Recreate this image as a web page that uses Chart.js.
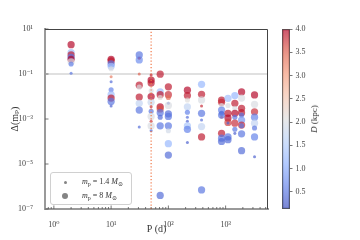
<!DOCTYPE html>
<html>
<head>
<meta charset="utf-8">
<script src="https://cdn.jsdelivr.net/npm/chart.js@4.4.1/dist/chart.umd.min.js"></script>
<style>
  html, body { margin: 0; padding: 0; background: #fff; }
  #wrap { position: relative; width: 360px; height: 240px; font-family: 'Liberation Serif', 'DejaVu Serif', serif; }
  #wrap canvas { position: absolute; left: 0; top: 0; }
  .legend-box { position: absolute; left: 50px; top: 172px; width: 80px; height: 31px; border: 1px solid #d0d0d0; border-radius: 3px; background: rgba(255,255,255,0.85); font-size: 8px; color: #333; }
  .legend-row { position: absolute; left: 0; height: 12px; line-height: 12px; width: 80px; }
  .legend-dot { position: absolute; border-radius: 50%; background: rgba(110,110,110,0.85); }
  .legend-text { position: absolute; left: 31px; white-space: nowrap; }
  .legend-text sub { font-size: 6px; vertical-align: -2px; line-height: 0; }
  .cb-label { position: absolute; left: 314px; top: 119px; transform: translate(-50%, -50%) rotate(-90deg); font-size: 9px; font-weight: normal; color: #333; white-space: nowrap; }
</style>
</head>
<body>
<div id="wrap">
  <canvas id="main" width="360" height="240"></canvas>
  <canvas id="cbar" width="360" height="240"></canvas>
  <div class="legend-box">
    <div class="legend-row" style="top:3px">
      <span class="legend-dot" style="left:12.5px;top:4.5px;width:3px;height:3px"></span>
      <span class="legend-text"><i>m</i><sub>p</sub> = 1.4 <i>M</i><sub>⊙</sub></span>
    </div>
    <div class="legend-row" style="top:17px">
      <span class="legend-dot" style="left:11px;top:3px;width:6px;height:6px"></span>
      <span class="legend-text"><i>m</i><sub>p</sub> = 8 <i>M</i><sub>⊙</sub></span>
    </div>
  </div>
  <div class="cb-label"><i>D</i> (kpc)</div>
</div>
<script>
// orbital periods of the columns (days)
var periods = [2, 10, 31, 50, 72, 100, 215, 380, 850, 1100, 1450, 1900, 3200];

// Delta(m_p) per column
var deltas = [
  [2.0, 0.9, 0.7, 0.55, 0.45, 0.35, 0.28, 0.107],
  [0.45, 0.38, 0.28, 0.22, 0.17, 0.075, 0.045, 0.02, 0.012, 0.0085, 0.006, 0.0038],
  [0.7, 0.5, 0.42, 0.1, 0.032, 0.026, 0.0095, 0.005, 0.0025, 0.00044],
  [0.09, 0.054, 0.04, 0.018, 0.01, 0.0055, 0.0035, 0.0022, 0.0013, 0.0008, 0.00049, 0.0003],
  [0.098, 0.016, 0.012, 0.009, 0.0035, 0.0028, 0.0019, 0.0012, 0.0005, 4e-7],
  [0.027, 0.012, 0.009, 0.005, 0.004, 0.0017, 0.0013, 0.0005, 0.0003, 8e-5, 2.5e-5],
  [0.019, 0.011, 0.007, 0.0035, 0.002, 0.0012, 0.0008, 0.0005, 0.00035, 9e-5],
  [0.035, 0.0125, 0.007, 0.0038, 0.0018, 0.0009, 0.00046, 0.00016, 7e-7],
  [0.0069, 0.0055, 0.004, 0.0025, 0.0018, 0.0012, 0.0015, 0.00023, 0.00014, 0.0001],
  [0.0083, 0.004, 0.0018, 0.0011, 0.0007, 0.00066, 0.00016, 0.00012],
  [0.011, 0.005, 0.003, 0.0018, 0.0012, 0.00065, 0.00035, 0.00023],
  [0.016, 0.0085, 0.003, 0.0019, 0.0015, 0.0009, 0.00054, 0.0005, 0.00022, 3.9e-5],
  [0.0117, 0.0045, 0.0021, 0.0012, 0.00065, 0.0004, 0.00016, 2.1e-5]
];

// pulsar mass per point (solar masses) -> marker size
var masses = [
  [8, 8, 8, 8, 8, 8, 4, 1.4],
  [8, 8, 8, 8, 4, 1.4, 1.4, 4, 8, 8, 8, 1.4],
  [8, 1.4, 8, 1.4, 8, 4, 8, 8, 8, 1.4],
  [1.4, 8, 8, 4, 8, 8, 1.4, 4, 8, 1.4, 8, 1.4],
  [8, 8, 8, 4, 8, 8, 8, 4, 8, 8],
  [8, 8, 4, 1.4, 8, 8, 8, 8, 4, 8, 8],
  [8, 8, 4, 8, 4, 1.4, 1.4, 8, 8, 1.4],
  [8, 8, 8, 1.4, 8, 1.4, 8, 8, 8],
  [8, 8, 4, 8, 4, 1.4, 8, 8, 8, 8],
  [8, 4, 8, 8, 8, 1.4, 8, 8],
  [8, 8, 4, 8, 4, 8, 4, 1.4],
  [8, 8, 8, 8, 4, 8, 8, 4, 8, 8],
  [8, 8, 8, 8, 8, 4, 8, 1.4]
];

// distance per point (kpc) -> colour
var distances = [
  [4.0, 1.3, 3.9, 0.5, 4.0, 2.0, 0.6, 0.5],
  [4.0, 3.9, 0.5, 1.3, 2.0, 3.3, 0.4, 0.6, 1.3, 3.9, 0.5, 0.3],
  [0.5, 4.0, 0.7, 3.5, 3.9, 2.0, 3.9, 1.7, 0.5, 0.4],
  [3.9, 4.0, 3.9, 2.0, 4.0, 1.8, 3.8, 0.5, 2.0, 3.8, 2.0, 0.3],
  [3.9, 1.3, 3.9, 2.1, 4.0, 3.6, 0.5, 0.4, 0.5, 0.4],
  [3.9, 3.8, 3.4, 0.3, 2.0, 0.4, 0.5, 0.5, 1.9, 1.2, 0.4],
  [4.0, 3.9, 2.1, 1.7, 0.6, 0.4, 0.3, 1.4, 0.6, 0.3],
  [1.2, 3.9, 2.0, 3.8, 0.5, 0.4, 1.7, 3.9, 0.5],
  [3.9, 3.8, 2.0, 0.6, 0.4, 3.4, 0.5, 3.9, 0.5, 0.4],
  [1.3, 2.0, 3.9, 4.0, 3.7, 0.3, 0.5, 0.4],
  [1.2, 3.9, 2.0, 4.0, 0.5, 3.8, 0.5, 0.3],
  [4.0, 2.0, 3.9, 3.9, 0.5, 0.8, 3.8, 0.5, 0.5, 0.4],
  [4.0, 2.0, 3.8, 0.6, 1.7, 0.5, 0.6, 0.3]
];

var D_MIN = 0.13, D_MAX = 4.0;
var P_CUT = 50;          // dotted vertical marker
var DELTA_REF = 0.1;     // grey horizontal reference
var cbTicks = [0.5, 1.0, 1.5, 2.0, 2.5, 3.0, 3.5, 4.0];

var coolwarm = [
  [0, 59, 76, 192], [0.125, 98, 130, 234], [0.25, 141, 176, 254],
  [0.375, 184, 208, 249], [0.5, 221, 221, 221], [0.625, 245, 196, 173],
  [0.75, 244, 154, 123], [0.875, 222, 96, 77], [1, 180, 4, 38]
];

function cmap(t, alpha) {
  t = Math.max(0, Math.min(1, t));
  for (var i = 1; i < coolwarm.length; i++) {
    if (t <= coolwarm[i][0]) {
      var a = coolwarm[i - 1], b = coolwarm[i];
      var f = (t - a[0]) / (b[0] - a[0]);
      var c = [1, 2, 3].map(function(k) { return Math.round(a[k] + f * (b[k] - a[k])); });
      return 'rgba(' + c[0] + ',' + c[1] + ',' + c[2] + ',' + alpha + ')';
    }
  }
}

var SUP = { '0': '⁰', '1': '¹', '2': '²', '3': '³', '4': '⁴', '5': '⁵', '6': '⁶', '7': '⁷', '8': '⁸', '9': '⁹', '-': '⁻' };
function pow10Label(v) {
  var e = Math.log10(v);
  if (Math.abs(e - Math.round(e)) > 1e-6) return null;
  return '10' + String(Math.round(e)).split('').map(function(ch) { return SUP[ch]; }).join('');
}

var points = [], colors = [], radii = [];
periods.forEach(function(p, i) {
  deltas[i].forEach(function(d, j) {
    points.push({ x: p, y: d });
    colors.push(cmap((distances[i][j] - D_MIN) / (D_MAX - D_MIN), 0.68));
    radii.push(1.28 * Math.sqrt(masses[i][j]));
  });
});

var X_MIN = 0.7, X_MAX = 5500, Y_MIN = 1e-7, Y_MAX = 10;
var tickFont = { family: "'Liberation Serif', 'DejaVu Serif', serif", size: 8 };
var titleFont = { family: "'Liberation Serif', 'DejaVu Serif', serif", size: 10 };

// inward tick marks + thin dark top/right spines, like the matplotlib frame
var framePlugin = {
  id: 'frame',
  afterDraw: function(chart) {
    var ctx = chart.ctx, a = chart.chartArea;
    var xs = chart.scales.x, ys = chart.scales.y;
    ctx.save();
    ctx.strokeStyle = '#555';
    ctx.lineWidth = 0.8;
    ctx.beginPath();
    xs.ticks.forEach(function(t) {
      var e = Math.floor(Math.log10(t.value) + 1e-9);
      var m = t.value / Math.pow(10, e);
      if (Math.abs(m - Math.round(m)) > 1e-6) return;
      var px = xs.getPixelForValue(t.value);
      if (px < a.left + 1 || px > a.right - 1) return;
      var len = Math.round(m) === 1 ? 3.5 : 2;
      ctx.moveTo(px, a.bottom);
      ctx.lineTo(px, a.bottom - len);
    });
    [-7, -5, -3, -1, 1].forEach(function(e) {
      var py = ys.getPixelForValue(Math.pow(10, e));
      ctx.moveTo(a.left, py);
      ctx.lineTo(a.left + 3.5, py);
    });
    ctx.stroke();
    ctx.strokeStyle = '#444';
    ctx.lineWidth = 1;
    ctx.beginPath();
    ctx.moveTo(a.left, a.top + 0.5);
    ctx.lineTo(a.right - 0.5, a.top + 0.5);
    ctx.lineTo(a.right - 0.5, a.bottom);
    ctx.stroke();
    ctx.restore();
  }
};

new Chart(document.getElementById('main').getContext('2d'), {
  type: 'scatter',
  data: {
    datasets: [
      {
        data: [{ x: P_CUT, y: Y_MIN }, { x: P_CUT, y: Y_MAX }],
        showLine: true, borderColor: '#f07848', borderWidth: 1.2, borderDash: [1.2, 2],
        pointRadius: 0, order: 0
      },
      {
        data: points,
        pointBackgroundColor: colors, pointRadius: radii, pointBorderWidth: 0,
        order: 1
      },
      {
        data: [{ x: X_MIN, y: DELTA_REF }, { x: X_MAX, y: DELTA_REF }],
        showLine: true, borderColor: '#d6d6d6', borderWidth: 1.5,
        pointRadius: 0, order: 2
      }
    ]
  },
  options: {
    responsive: false,
    animation: false,
    events: [],
    layout: { padding: { left: 0, top: 29, right: 92, bottom: 0 } },
    plugins: { legend: { display: false }, tooltip: { enabled: false } },
    scales: {
      x: {
        type: 'logarithmic', min: X_MIN, max: X_MAX,
        afterFit: function(s) { s.height = 31; },
        grid: { display: false },
        border: { display: true, color: '#9a9a9a', width: 2 },
        ticks: {
          autoSkip: false, maxRotation: 0, padding: 3, color: '#444', font: tickFont,
          callback: function(v) { return pow10Label(v) || ''; }
        },
        title: { display: true, text: 'P (d)', color: '#333', font: titleFont, padding: { top: 0, bottom: 5 } }
      },
      y: {
        type: 'logarithmic', min: Y_MIN, max: Y_MAX,
        afterFit: function(s) { s.width = 45; },
        grid: { display: false },
        border: { display: true, color: '#9a9a9a', width: 2 },
        ticks: {
          autoSkip: false, padding: 4, color: '#444', font: tickFont,
          callback: function(v) {
            var l = pow10Label(v);
            if (!l) return null;
            return Math.abs(Math.round(Math.log10(v))) % 2 === 1 ? l : null;
          }
        },
        title: { display: true, text: 'Δ(mₚ)', color: '#333', font: titleFont, padding: { top: 9, bottom: 0 } }
      }
    }
  },
  plugins: [framePlugin]
});

// colour bar: one floating bar spanning D_MIN..D_MAX, filled with the colormap
new Chart(document.getElementById('cbar').getContext('2d'), {
  type: 'bar',
  data: {
    labels: ['D'],
    datasets: [{
      data: [[D_MIN, D_MAX]],
      barPercentage: 1, categoryPercentage: 1,
      borderWidth: 1, borderColor: '#555', borderSkipped: false,
      backgroundColor: function(c) {
        var a = c.chart.chartArea;
        if (!a) return 'transparent';
        var g = c.chart.ctx.createLinearGradient(0, a.bottom, 0, a.top);
        for (var k = 0; k <= 20; k++) g.addColorStop(k / 20, cmap(k / 20, 0.68));
        return g;
      }
    }]
  },
  options: {
    responsive: false,
    animation: false,
    events: [],
    layout: { padding: { left: 282, top: 29, right: 40, bottom: 31 } },
    plugins: { legend: { display: false }, tooltip: { enabled: false } },
    scales: {
      x: { display: false },
      y: {
        position: 'right', min: D_MIN, max: D_MAX,
        afterFit: function(s) { s.width = 30; },
        afterBuildTicks: function(s) { s.ticks = cbTicks.map(function(v) { return { value: v }; }); },
        border: { display: false },
        grid: { drawOnChartArea: false, drawTicks: true, tickLength: 2.5, color: '#555', lineWidth: 0.8 },
        ticks: {
          padding: 3, color: '#444', font: tickFont,
          callback: function(v) { return v.toFixed(1); }
        }
      }
    }
  }
});
</script>
</body>
</html>
